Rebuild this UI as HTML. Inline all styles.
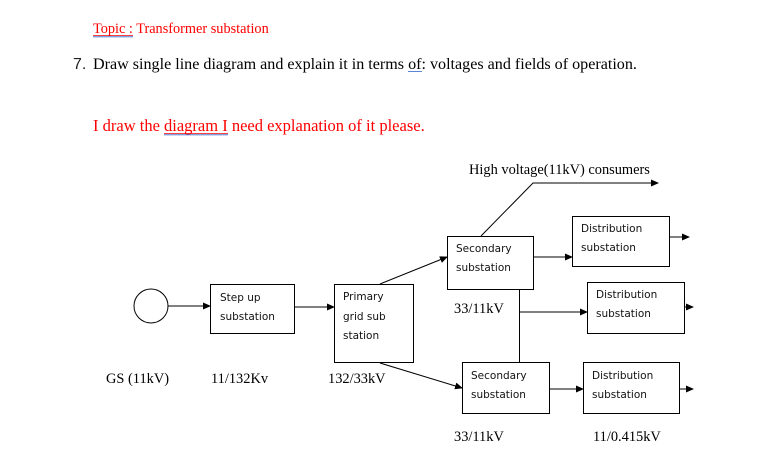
<!DOCTYPE html>
<html><head><style>
html,body{margin:0;padding:0;background:#fff;}
svg{display:block;}
.t{font-family:"Liberation Serif",serif;}
.s{font-family:"DejaVu Sans","Liberation Sans",sans-serif;font-size:10.5px;}
</style></head><body>
<svg width="784" height="472" viewBox="0 0 784 472" xmlns="http://www.w3.org/2000/svg">
<defs><marker id="a" markerWidth="8" markerHeight="8" refX="7" refY="4" orient="auto" markerUnits="userSpaceOnUse"><path d="M0,0.5 L8,4 L0,7.5z" fill="#000"/></marker></defs>
<text class="t" x="93" y="33" font-size="14.3" fill="#f00">Topic : Transformer substation</text>
<line x1="93" y1="35.5" x2="133" y2="35.5" stroke="#f00" stroke-width="0.8"/>
<line x1="93" y1="36.8" x2="133" y2="36.8" stroke="#36c" stroke-width="0.8"/>
<text x="73" y="69" font-size="16" style="font-family:'Liberation Sans',sans-serif" fill="#222">7.</text>
<text class="t" x="93" y="69" font-size="16.1" fill="#000">Draw single line diagram and explain it in terms of: voltages and fields of operation.</text>
<line x1="408" y1="71.5" x2="422" y2="71.5" stroke="#36c" stroke-width="0.8"/>
<text class="t" x="93" y="131" font-size="16.5" fill="#f00">I draw the diagram  I need explanation of it please.</text>
<line x1="164" y1="133.5" x2="228" y2="133.5" stroke="#f00" stroke-width="0.8"/>
<line x1="164" y1="134.8" x2="228" y2="134.8" stroke="#36c" stroke-width="0.8"/>
<g stroke="#000" stroke-width="1" fill="none">
<circle cx="151" cy="306" r="17"/>
<rect x="210.5" y="284.5" width="84" height="49"/>
<rect x="334.5" y="284.5" width="79" height="78"/>
<rect x="447.5" y="236.5" width="86" height="53"/>
<rect x="572.5" y="216.5" width="97" height="50"/>
<rect x="587.5" y="282.5" width="97" height="51"/>
<rect x="462.5" y="362.5" width="87" height="51"/>
<rect x="583.5" y="362.5" width="96" height="51"/>
<line x1="168" y1="306" x2="210" y2="306" marker-end="url(#a)"/>
<line x1="295" y1="307" x2="334" y2="307" marker-end="url(#a)"/>
<line x1="380" y1="284" x2="447" y2="257" marker-end="url(#a)"/>
<line x1="380" y1="363" x2="462" y2="388" marker-end="url(#a)"/>
<line x1="534" y1="257" x2="572" y2="257" marker-end="url(#a)"/>
<line x1="670" y1="237" x2="689" y2="237" marker-end="url(#a)"/>
<polyline points="481,236 533,183 658,183" marker-end="url(#a)"/>
<line x1="519.5" y1="290" x2="519.5" y2="362"/>
<line x1="519" y1="312" x2="587" y2="312" marker-end="url(#a)"/>
<line x1="685" y1="307" x2="693" y2="307" marker-end="url(#a)"/>
<line x1="550" y1="389" x2="583" y2="389" marker-end="url(#a)"/>
<line x1="680" y1="389" x2="693" y2="389" marker-end="url(#a)"/>
</g>
<g fill="#111">
<text class="s" x="220" y="301">Step up</text>
<text class="s" x="220" y="320">substation</text>
<text class="s" x="343" y="300">Primary</text>
<text class="s" x="343" y="320">grid sub</text>
<text class="s" x="343" y="339">station</text>
<text class="s" x="456" y="252">Secondary</text>
<text class="s" x="456" y="271">substation</text>
<text class="s" x="581" y="232">Distribution</text>
<text class="s" x="581" y="251">substation</text>
<text class="s" x="596" y="298">Distribution</text>
<text class="s" x="596" y="317">substation</text>
<text class="s" x="471" y="379">Secondary</text>
<text class="s" x="471" y="398">substation</text>
<text class="s" x="592" y="379">Distribution</text>
<text class="s" x="592" y="398">substation</text>
</g>
<g font-size="14.4" fill="#000">
<text class="t" x="106" y="383">GS (11kV)</text>
<text class="t" x="211" y="383">11/132Kv</text>
<text class="t" x="328" y="383">132/33kV</text>
<text class="t" x="469" y="174">High voltage(11kV) consumers</text>
<text class="t" x="454" y="313">33/11kV</text>
<text class="t" x="454" y="441">33/11kV</text>
<text class="t" x="593" y="441">11/0.415kV</text>
</g>
</svg>
</body></html>
